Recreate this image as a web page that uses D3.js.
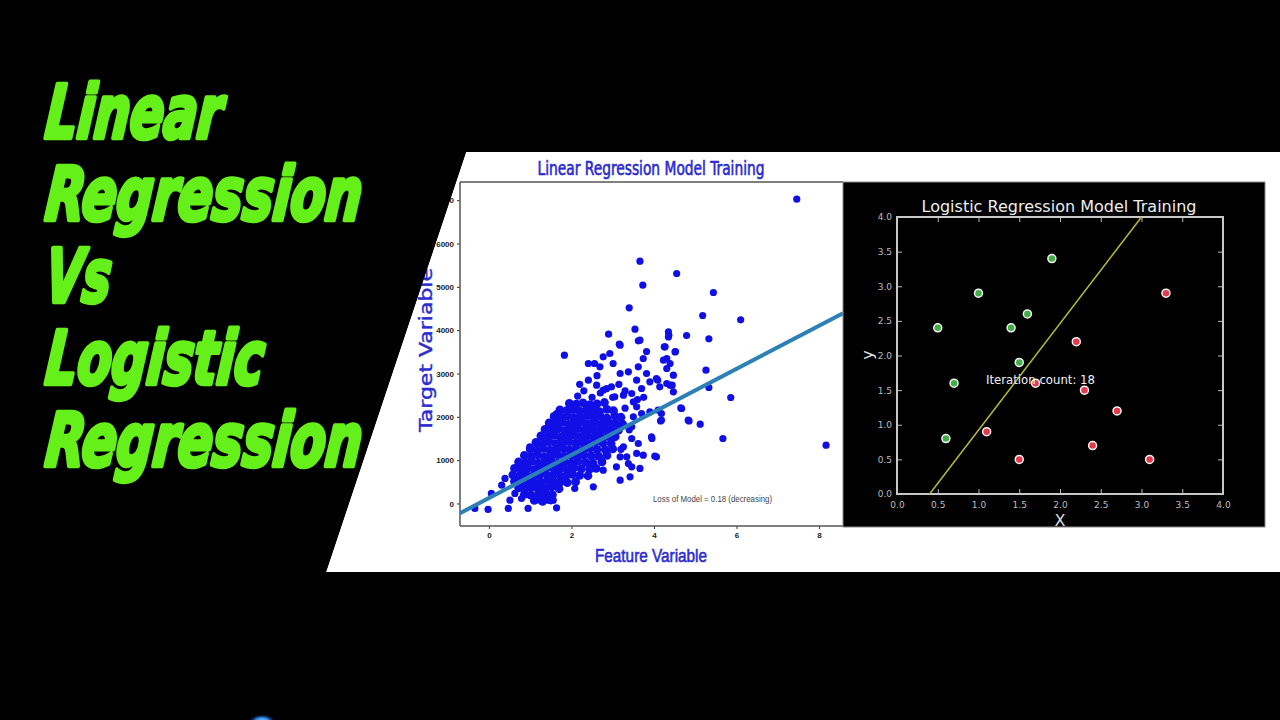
<!DOCTYPE html>
<html>
<head>
<meta charset="utf-8">
<script src="https://cdn.jsdelivr.net/npm/d3@7"></script>
<style>
  html, body { margin: 0; padding: 0; background: #000; }
  svg { display: block; }
</style>
</head>
<body>
<svg id="chart" width="1280" height="720"></svg>
<script>
// ---- data ----

// headline on the left
var headlineLines = ["Linear", "Regression", "Vs", "Logistic", "Regression"];
var headlineWidths = [176, 316, 65, 218, 316];

// linear regression panel
var linTitle = "Linear Regression Model Training";
var linXLabel = "Feature Variable";
var linYLabel = "Target Variable";
var linLossText = "Loss of Model = 0.18 (decreasing)";
var linXTicks = [0, 2, 4, 6, 8];
var linYTicks = [0, 1000, 2000, 3000, 4000, 5000, 6000, 7000];
var linFit = { intercept: 124, slope: 497 };

// scattered points (feature, target)
var linOutliers = [
  [7.46, 7023], [8.17, 1346], [3.66, 5592], [3.73, 5038], [4.55, 5308], [5.44, 4870],
  [3.40, 4515], [5.18, 4339], [6.10, 4238], [3.54, 4023], [4.35, 3961], [4.35, 3845],
  [4.79, 3877], [5.33, 3800], [3.62, 3753], [4.25, 3615], [4.52, 3508], [3.82, 3508],
  [4.31, 3346], [2.90, 3907], [1.83, 3423], [3.16, 3676], [5.26, 3076], [5.33, 2677],
  [5.86, 2446], [4.65, 2206], [4.85, 1906], [5.12, 1830], [5.67, 1500], [3.95, 1500],
  [4.02, 1092], [4.47, 2961], [4.16, 1906], [4.18, 2077], [4.31, 2769], [4.09, 2846],
  [4.44, 2730], [3.18, 3653], [3.66, 3769], [4.36, 3884], [4.27, 3615], [4.51, 3499],
  [2.41, 3231], [2.56, 3231], [2.77, 3384], [2.93, 3461], [3.01, 3231], [2.69, 3153],
  [3.74, 3346], [3.62, 3153], [4.23, 3307], [4.31, 3115], [4.39, 3231], [3.18, 3000],
  [3.38, 3038], [3.58, 2846], [3.82, 3000], [3.90, 2807], [4.06, 2885], [4.14, 2692],
  [3.70, 2654], [2.41, 2846], [2.61, 2730], [2.77, 2615], [2.97, 2692], [3.05, 2461],
  [3.26, 2500], [3.46, 2538], [3.50, 2346], [4.39, 2730], [4.47, 2577], [3.58, 2230],
  [3.70, 2077], [3.90, 2115], [4.10, 2153], [4.18, 1923], [3.94, 1538], [4.67, 2192],
  [4.83, 1923], [3.46, 1769], [3.46, 1500], [3.62, 1384], [3.26, 1307], [3.34, 1076],
  [3.58, 1154], [3.74, 1115], [4.06, 1076], [3.18, 1076], [3.38, 923], [3.09, 846],
  [3.46, 846], [3.66, 808], [3.18, 538], [3.42, 615], [2.77, 769], [2.53, 384],
  [-0.34, -115], [-0.02, -138], [0.47, -115], [0.95, -115], [1.64, -101], [0.06, 231],
  [0.31, 423], [0.39, 577], [0.51, 76], [0.63, 231], [0.79, 115], [0.99, 192],
  [1.24, 76], [1.40, 231], [1.44, 76], [1.56, 76], [1.72, 462], [1.88, 500],
  [2.08, 346], [0.99, 1307], [1.64, 2077], [1.72, 1961], [1.52, 1846], [2.12, 2308],
  [2.04, 2154], [3.30, 2200], [3.50, 2000], [3.40, 1700], [3.20, 1250], [3.60, 2400],
  [3.15, 2750], [2.70, 2550], [2.50, 2450], [3.00, 2450], [3.75, 2450], [3.30, 2600],
  [2.30, 2600], [2.15, 2480], [2.85, 2650], [2.62, 2950], [2.20, 2750]
];

// dense core of the cloud (feature, target)
var linCore = [
  [1.95, 2310], [2.12, 2290], [2.28, 2320], [2.45, 2280], [2.62, 2300], [2.80, 2330],
  [1.72, 2160], [1.88, 2140], [2.04, 2170], [2.20, 2130], [2.36, 2160], [2.52, 2150], [2.68, 2120], [2.86, 2170], [3.02, 2140],
  [1.58, 2010], [1.74, 1990], [1.90, 2020], [2.06, 1980], [2.22, 2000], [2.38, 2030], [2.54, 1990], [2.70, 2010], [2.86, 1970], [3.05, 2020], [3.20, 1990],
  [1.46, 1860], [1.62, 1840], [1.78, 1870], [1.94, 1830], [2.10, 1850], [2.26, 1880], [2.42, 1840], [2.58, 1860], [2.74, 1830], [2.90, 1870], [3.06, 1850], [3.24, 1830],
  [1.36, 1710], [1.52, 1690], [1.68, 1720], [1.84, 1680], [2.00, 1700], [2.16, 1730], [2.32, 1690], [2.48, 1710], [2.64, 1680], [2.80, 1720], [2.96, 1700], [3.14, 1690],
  [1.26, 1560], [1.42, 1540], [1.58, 1570], [1.74, 1530], [1.90, 1550], [2.06, 1580], [2.22, 1540], [2.38, 1560], [2.54, 1530], [2.70, 1570], [2.88, 1550], [3.06, 1540],
  [1.14, 1410], [1.30, 1390], [1.46, 1420], [1.62, 1380], [1.78, 1400], [1.94, 1430], [2.10, 1390], [2.26, 1410], [2.42, 1380], [2.58, 1420], [2.76, 1400], [2.96, 1390],
  [1.00, 1260], [1.16, 1240], [1.32, 1270], [1.48, 1230], [1.64, 1250], [1.80, 1280], [1.96, 1240], [2.12, 1260], [2.28, 1230], [2.44, 1270], [2.62, 1250], [2.82, 1240], [3.00, 1260],
  [0.86, 1110], [1.02, 1090], [1.18, 1120], [1.34, 1080], [1.50, 1100], [1.66, 1130], [1.82, 1090], [1.98, 1110], [2.14, 1080], [2.30, 1120], [2.48, 1100], [2.66, 1090], [2.86, 1110],
  [0.72, 960], [0.88, 940], [1.04, 970], [1.20, 930], [1.36, 950], [1.52, 980], [1.68, 940], [1.84, 960], [2.00, 930], [2.16, 970], [2.34, 950], [2.52, 940], [2.74, 960],
  [0.62, 810], [0.78, 790], [0.94, 820], [1.10, 780], [1.26, 800], [1.42, 830], [1.58, 790], [1.74, 810], [1.90, 780], [2.06, 820], [2.24, 800], [2.44, 790], [2.60, 810],
  [0.58, 660], [0.74, 640], [0.90, 670], [1.06, 630], [1.22, 650], [1.38, 680], [1.54, 640], [1.70, 660], [1.86, 630], [2.02, 670], [2.20, 650], [2.40, 640],
  [0.62, 510], [0.78, 490], [0.94, 520], [1.10, 480], [1.26, 500], [1.42, 530], [1.58, 490], [1.74, 510], [1.90, 480], [2.10, 500],
  [0.72, 360], [0.88, 340], [1.04, 370], [1.20, 330], [1.36, 350], [1.52, 380], [1.70, 340],
  [0.86, 210], [1.02, 190], [1.20, 220], [1.36, 180], [1.54, 200],
  [1.10, 70], [1.30, 50], [1.50, 80]
];

// logistic regression panel
var logTitle = "Logistic Regression Model Training";
var logIterText = "Iteration count: 18";
var logTicks = [0, 0.5, 1, 1.5, 2, 2.5, 3, 3.5, 4];
var logGreen = [[0.5, 2.4], [1.0, 2.9], [1.4, 2.4], [1.6, 2.6], [1.9, 3.4], [1.5, 1.9], [0.7, 1.6], [0.6, 0.8]];
var logRed = [[3.3, 2.9], [2.2, 2.2], [1.7, 1.6], [2.3, 1.5], [2.7, 1.2], [1.1, 0.9], [1.5, 0.5], [2.4, 0.7], [3.1, 0.5]];
var logBoundary = [[0.4, 0], [3.0, 4.0]];

// ---- drawing ----
var svg = d3.select("#chart");

svg.append("rect").attr("width", 1280).attr("height", 720).attr("fill", "#000");

// white slanted card
svg.append("polygon")
    .attr("points", "466,152 1280,152 1280,572 326,572")
    .attr("fill", "#fff");

// ---------- linear panel ----------
var xLin = d3.scaleLinear().domain([-0.7, 8.58]).range([460, 843]);
var yLin = d3.scaleLinear().domain([-520, 7420]).range([526, 182]);

svg.append("clipPath").attr("id", "linClip")
  .append("rect").attr("x", 460).attr("y", 182).attr("width", 383).attr("height", 344);

var lin = svg.append("g");
var blue = "#2b2bd0";
var dotBlue = "#1010e6";

lin.append("text")
    .attr("x", 651).attr("y", 175)
    .attr("text-anchor", "middle")
    .attr("textLength", 227).attr("lengthAdjust", "spacingAndGlyphs")
    .style("font-family", "'Liberation Sans Narrow', 'DejaVu Sans Condensed', sans-serif")
    .style("font-size", "19px")
    .attr("fill", blue).attr("stroke", blue).attr("stroke-width", 0.6)
    .text(linTitle);

var linAxisY = d3.axisLeft(yLin).tickValues(linYTicks).tickSize(3).tickFormat(d3.format("d"));
var linAxisX = d3.axisBottom(xLin).tickValues(linXTicks).tickSize(3).tickFormat(d3.format("d"));

lin.append("g").attr("transform", "translate(460,0)").call(linAxisY);
lin.append("g").attr("transform", "translate(0,526)").call(linAxisX);

lin.selectAll(".domain").remove();
lin.selectAll(".tick line").attr("stroke", "#333");
lin.selectAll(".tick text")
    .style("font-family", "'Liberation Sans Narrow', sans-serif")
    .style("font-weight", "bold")
    .style("font-size", "8px")
    .attr("fill", "#222");

// spines
lin.append("line").attr("x1", 460).attr("x2", 843).attr("y1", 182).attr("y2", 182).attr("stroke", "#555").attr("stroke-width", 1.5);
lin.append("line").attr("x1", 460).attr("x2", 843).attr("y1", 526).attr("y2", 526).attr("stroke", "#555").attr("stroke-width", 1.5);
lin.append("line").attr("x1", 460).attr("x2", 460).attr("y1", 182).attr("y2", 526).attr("stroke", "#555").attr("stroke-width", 1.5);

var plot = lin.append("g").attr("clip-path", "url(#linClip)");

plot.selectAll("circle.core")
    .data(linCore)
  .enter().append("circle")
    .attr("class", "core")
    .attr("cx", function(d) { return xLin(d[0]); })
    .attr("cy", function(d) { return yLin(d[1]); })
    .attr("r", 4.4)
    .attr("fill", dotBlue);

plot.selectAll("circle.out")
    .data(linOutliers)
  .enter().append("circle")
    .attr("class", "out")
    .attr("cx", function(d) { return xLin(d[0]); })
    .attr("cy", function(d) { return yLin(d[1]); })
    .attr("r", 3.6)
    .attr("fill", dotBlue);

// fitted line across the whole x domain
var fitPts = xLin.domain().map(function(x) { return [x, linFit.intercept + linFit.slope * x]; });
plot.append("path")
    .datum(fitPts)
    .attr("d", d3.line().x(function(d) { return xLin(d[0]); }).y(function(d) { return yLin(d[1]); }))
    .attr("stroke", "#2c80b5")
    .attr("stroke-width", 4)
    .attr("fill", "none");

lin.append("text")
    .attr("x", 653).attr("y", 502)
    .attr("textLength", 119).attr("lengthAdjust", "spacingAndGlyphs")
    .style("font-family", "'Liberation Sans Narrow', sans-serif")
    .style("font-size", "9px")
    .attr("fill", "#444")
    .text(linLossText);

lin.append("text")
    .attr("x", 651).attr("y", 562)
    .attr("text-anchor", "middle")
    .attr("textLength", 112).attr("lengthAdjust", "spacingAndGlyphs")
    .style("font-family", "'Liberation Sans Narrow', sans-serif")
    .style("font-size", "19px")
    .attr("fill", blue).attr("stroke", blue).attr("stroke-width", 0.6)
    .text(linXLabel);

lin.append("text")
    .attr("transform", "translate(432,350) rotate(-90)")
    .attr("text-anchor", "middle")
    .attr("textLength", 164).attr("lengthAdjust", "spacingAndGlyphs")
    .style("font-family", "'DejaVu Sans', sans-serif")
    .style("font-size", "17px")
    .attr("fill", blue).attr("stroke", blue).attr("stroke-width", 0.4)
    .text(linYLabel);

// black wedge on the left covers the panel edge
svg.append("polygon")
    .attr("points", "0,0 1280,0 1280,152 466,152 326,572 0,572")
    .attr("fill", "#000");
svg.append("rect").attr("x", 0).attr("y", 572).attr("width", 1280).attr("height", 148).attr("fill", "#000");

// ---------- logistic panel ----------
var lg = svg.append("g");
lg.append("rect")
    .attr("x", 843).attr("y", 182).attr("width", 422).attr("height", 345)
    .attr("fill", "#000").attr("stroke", "#888").attr("stroke-width", 1);

var xLog = d3.scaleLinear().domain([0, 4]).range([897, 1223]);
var yLog = d3.scaleLinear().domain([0, 4]).range([494, 217]);
var tickFmt = d3.format(".1f");

lg.append("g").attr("transform", "translate(0,494)")
    .call(d3.axisBottom(xLog).tickValues(logTicks).tickSize(-5).tickPadding(8).tickFormat(tickFmt));
lg.append("g").attr("transform", "translate(897,0)")
    .call(d3.axisLeft(yLog).tickValues(logTicks).tickSize(-5).tickPadding(5).tickFormat(tickFmt));
lg.append("g").attr("transform", "translate(0,217)")
    .call(d3.axisTop(xLog).tickValues(logTicks).tickSize(-5).tickFormat(""));
lg.append("g").attr("transform", "translate(1223,0)")
    .call(d3.axisRight(yLog).tickValues(logTicks).tickSize(-5).tickFormat(""));

lg.selectAll(".domain").remove();
lg.selectAll(".tick line").attr("stroke", "#bbb").attr("stroke-width", 1);
lg.selectAll(".tick text")
    .style("font-family", "'DejaVu Sans', sans-serif")
    .style("font-size", "9px")
    .attr("fill", "#bdbdbd");

lg.append("rect")
    .attr("x", xLog(0)).attr("y", yLog(4))
    .attr("width", xLog(4) - xLog(0)).attr("height", yLog(0) - yLog(4))
    .attr("fill", "none").attr("stroke", "#c8c8c8").attr("stroke-width", 2);

lg.append("text")
    .attr("x", 1059).attr("y", 212)
    .attr("text-anchor", "middle")
    .attr("textLength", 275).attr("lengthAdjust", "spacingAndGlyphs")
    .style("font-family", "'DejaVu Sans', sans-serif")
    .style("font-size", "16px")
    .attr("fill", "#eee")
    .text(logTitle);

lg.append("text")
    .attr("x", 1060).attr("y", 526)
    .attr("text-anchor", "middle")
    .style("font-family", "'DejaVu Sans', sans-serif")
    .style("font-size", "16px")
    .attr("fill", "#ddd")
    .text("X");

lg.append("text")
    .attr("transform", "translate(873,355) rotate(-90)")
    .attr("text-anchor", "middle")
    .style("font-family", "'DejaVu Sans', sans-serif")
    .style("font-size", "16px")
    .attr("fill", "#ddd")
    .text("y");

lg.append("path")
    .datum(logBoundary)
    .attr("d", d3.line().x(function(d) { return xLog(d[0]); }).y(function(d) { return yLog(d[1]); }))
    .attr("stroke", "#b8b83a")
    .attr("stroke-width", 1.5)
    .attr("fill", "none");

function drawClass(data, color) {
    lg.append("g").selectAll("circle")
        .data(data)
      .enter().append("circle")
        .attr("cx", function(d) { return xLog(d[0]); })
        .attr("cy", function(d) { return yLog(d[1]); })
        .attr("r", 4)
        .attr("fill", color)
        .attr("stroke", "#f4f4f4")
        .attr("stroke-width", 1.5);
}
drawClass(logGreen, "#3fae45");
drawClass(logRed, "#e5384c");

lg.append("text")
    .attr("x", 986).attr("y", 384)
    .attr("textLength", 109).attr("lengthAdjust", "spacingAndGlyphs")
    .style("font-family", "'DejaVu Sans', sans-serif")
    .style("font-size", "13px")
    .attr("fill", "#f2f2f2")
    .text(logIterText);

// ---------- headline ----------
var baselines = [138, 220, 302, 384, 466];
svg.append("g").selectAll("text")
    .data(headlineLines)
  .enter().append("text")
    .attr("transform", function(d, i) { return "translate(44," + baselines[i] + ") scale(1,1.12) skewX(-6)"; })
    .attr("textLength", function(d, i) { return headlineWidths[i]; })
    .attr("lengthAdjust", "spacingAndGlyphs")
    .style("font-family", "'Liberation Sans Narrow', 'DejaVu Sans Condensed', sans-serif")
    .style("font-weight", "bold")
    .style("font-style", "italic")
    .style("font-size", "66px")
    .attr("fill", "#66f01a")
    .attr("stroke", "#66f01a")
    .attr("stroke-width", 4)
    .attr("stroke-linejoin", "round")
    .text(function(d) { return d; });

// little blue glow at the bottom edge
var grad = svg.append("defs").append("radialGradient").attr("id", "glow");
grad.append("stop").attr("offset", "0%").attr("stop-color", "#9fd8ff");
grad.append("stop").attr("offset", "50%").attr("stop-color", "#1e7fe0");
grad.append("stop").attr("offset", "100%").attr("stop-color", "#000").attr("stop-opacity", 0);
svg.append("ellipse").attr("cx", 262).attr("cy", 721).attr("rx", 14).attr("ry", 7).attr("fill", "url(#glow)");
</script>
</body>
</html>
